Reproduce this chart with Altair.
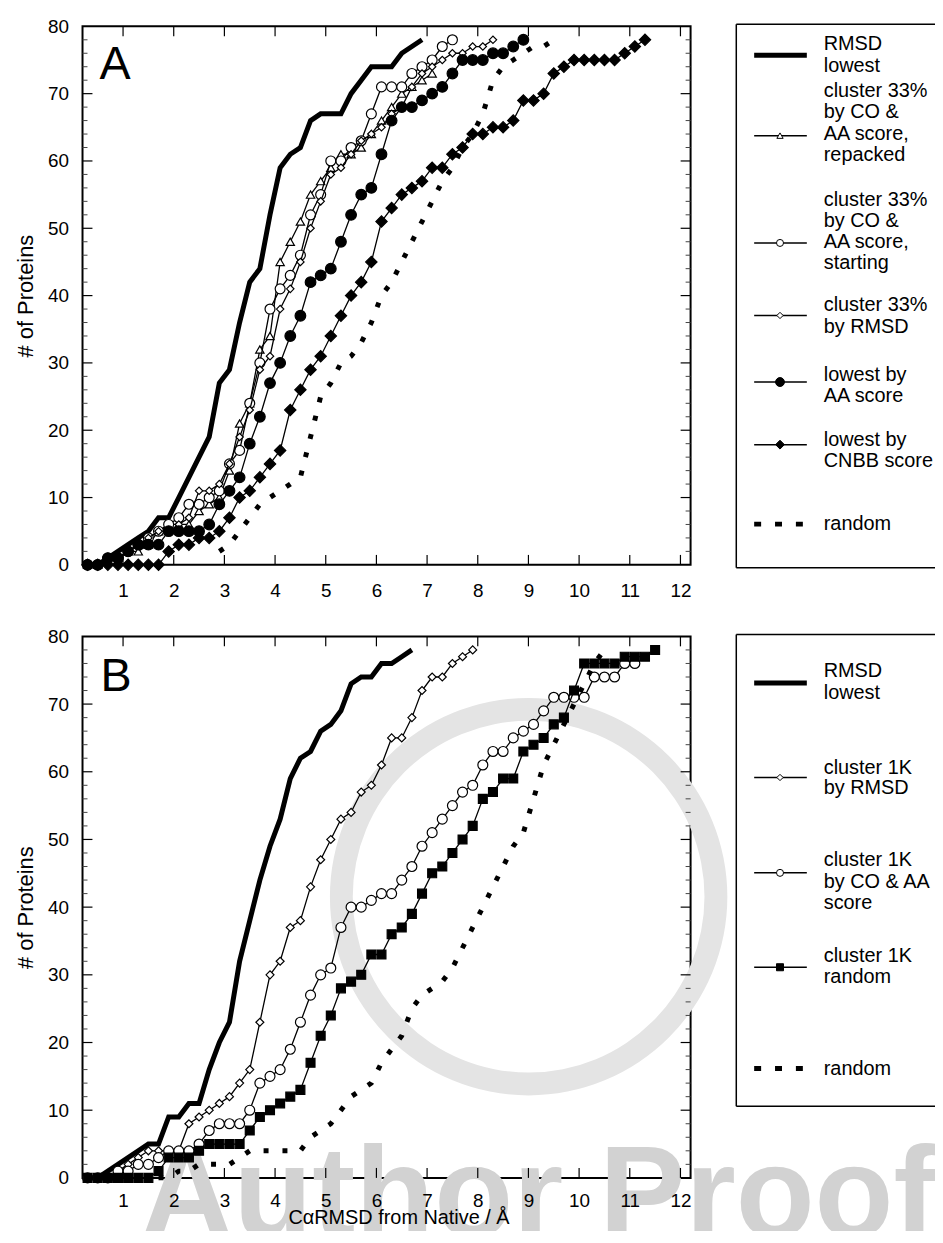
import altair as alt
import pandas as pd

FONT = "Liberation Sans"

# shared x grid of the cumulative curves (RMSD bins, Angstrom)
X_GRID = [0.3, 0.5, 0.7, 0.9, 1.1, 1.3, 1.5, 1.7, 1.9, 2.1, 2.3, 2.5, 2.7, 2.9,
          3.1, 3.3, 3.5, 3.7, 3.9, 4.1, 4.3, 4.5, 4.7, 4.9, 5.1, 5.3, 5.5, 5.7,
          5.9, 6.1, 6.3, 6.5, 6.7, 6.9, 7.1, 7.3, 7.5, 7.7, 7.9, 8.1, 8.3, 8.5,
          8.7, 8.9, 9.1, 9.3, 9.5, 9.7, 9.9, 10.1, 10.3, 10.5, 10.7, 10.9, 11.1,
          11.3, 11.5]

X_LABELS = [1, 2, 3, 4, 5, 6, 7, 8, 9, 10, 11, 12]
Y_LABELS = [0, 10, 20, 30, 40, 50, 60, 70, 80]
Y_MAJOR = [10, 20, 30, 40, 50, 60, 70]
Y_MINOR = [2, 4, 6, 8, 12, 14, 16, 18, 22, 24, 26, 28, 32, 34, 36, 38, 42, 44,
           46, 48, 52, 54, 56, 58, 62, 64, 66, 68, 72, 74, 76, 78]

# ---------------- Panel A (# of proteins, cumulative) ----------------
A_RMSD_LOWEST_START = 0.3
A_RMSD_LOWEST = [0, 0, 1, 2, 3, 4, 5, 7, 7, 10, 13, 16, 19, 27, 29, 36, 42, 44,
                 52, 59, 61, 62, 66, 67, 67, 67, 70, 72, 74, 74, 74, 76, 77, 78]
A_REPACKED_START = 0.3
A_REPACKED = [0, 0, 1, 1, 2, 2, 3, 5, 6, 6, 6, 8, 9, 10, 14, 21, 24, 32, 34, 45,
              48, 51, 55, 57, 59, 61, 61, 62, 64, 66, 68, 70, 71, 72, 73]
A_STARTING_START = 0.3
A_STARTING = [0, 0, 1, 1, 2, 3, 4, 5, 6, 7, 9, 9, 10, 11, 15, 17, 24, 30, 38, 41,
              43, 46, 52, 55, 60, 60, 62, 63, 67, 71, 71, 71, 73, 74, 75, 77, 78]
A_BY_RMSD_START = 0.3
A_BY_RMSD = [0, 0, 1, 1, 2, 3, 4, 5, 5, 6, 7, 11, 11, 12, 15, 19, 23, 29, 31, 38,
             41, 45, 50, 54, 58, 59, 61, 63, 64, 65, 67, 68, 71, 73, 74, 75, 76,
             76, 77, 77, 78]
A_AA_START = 0.3
A_AA = [0, 0, 1, 1, 2, 3, 3, 3, 5, 5, 5, 5, 6, 9, 11, 13, 18, 22, 27, 30, 34, 37,
        42, 43, 44, 48, 52, 55, 56, 61, 66, 68, 68, 69, 70, 71, 73, 75, 75, 75,
        76, 76, 77, 78]
A_CNBB_START = 0.3
A_CNBB = [0, 0, 0, 0, 0, 0, 0, 0, 2, 3, 3, 4, 4, 5, 7, 10, 11, 13, 15, 17, 23,
          26, 29, 31, 34, 37, 40, 42, 45, 51, 53, 55, 56, 57, 59, 59, 61, 62, 64,
          64, 65, 65, 66, 69, 69, 70, 73, 74, 75, 75, 75, 75, 75, 76, 77, 78]
A_RANDOM_START = 2.9
A_RANDOM = [2, 3, 5, 7, 9, 10, 11, 12, 13, 19, 25, 27, 30, 31, 33, 36, 40, 42,
            45, 48, 51, 54, 57, 59, 62, 64, 67, 72, 74, 75, 76, 77, 77, 78]

# ---------------- Panel B ----------------
B_RMSD_LOWEST_START = 0.3
B_RMSD_LOWEST = [0, 0, 1, 2, 3, 4, 5, 5, 9, 9, 11, 11, 16, 20, 23, 32, 38, 44,
                 49, 53, 59, 62, 63, 66, 67, 69, 73, 74, 74, 76, 76, 77, 78]
B_BY_RMSD_START = 0.3
B_BY_RMSD = [0, 0, 0, 1, 2, 3, 4, 4, 4, 4, 8, 9, 10, 11, 12, 14, 16, 23, 30, 32,
             37, 38, 43, 47, 50, 53, 54, 57, 58, 61, 65, 65, 68, 72, 74, 74, 76,
             77, 78]
B_CO_AA_START = 0.3
B_CO_AA = [0, 0, 0, 1, 1, 2, 2, 3, 4, 4, 4, 5, 7, 8, 8, 8, 10, 14, 15, 16, 19,
           23, 27, 30, 31, 37, 40, 40, 41, 42, 42, 44, 46, 49, 51, 53, 55, 57,
           58, 61, 63, 63, 65, 66, 67, 69, 71, 71, 71, 71, 74, 74, 74, 76, 76]
B_RANDOM_1K_START = 0.3
B_RANDOM_1K = [0, 0, 0, 0, 0, 0, 0, 1, 3, 3, 3, 4, 5, 5, 5, 5, 7, 9, 10, 11, 12,
               13, 17, 21, 24, 28, 29, 30, 33, 33, 36, 37, 39, 42, 45, 46, 48,
               50, 52, 56, 57, 59, 59, 63, 64, 65, 67, 68, 72, 76, 76, 76, 76,
               77, 77, 77, 78]
B_RANDOM_START = 1.7
B_RANDOM = [0, 0, 1, 1, 2, 2, 2, 2, 3, 4, 4, 4, 4, 4, 4, 6, 7, 8, 10, 12, 13, 14,
            17, 19, 21, 25, 27, 28, 29, 31, 34, 37, 40, 43, 46, 49, 51, 56, 61,
            64, 67, 70, 73, 76, 78]

# legend labels
A_LEGEND_LABELS = [
    ["RMSD", "lowest"],
    ["cluster 33%", "by CO &", "AA score,", "repacked"],
    ["cluster 33%", "by CO &", "AA score,", "starting"],
    ["cluster 33%", "by RMSD"],
    ["lowest by", "AA score"],
    ["lowest by", "CNBB score"],
    ["random"],
]
B_LEGEND_LABELS = [
    ["RMSD", "lowest"],
    ["cluster 1K", "by RMSD"],
    ["cluster 1K", "by CO & AA", "score"],
    ["cluster 1K", "random"],
    ["random"],
]
WATERMARK = "Author Proof"

# ---------------- styles / layout ----------------
STYLE_THICK = dict(kind="thick")
STYLE_DASH = dict(kind="dash")


def marker_style(shape, fill, size, lsize):
    return dict(kind="marker", shape=shape, fill=fill, size=size, lsize=lsize)


W = 612
H_A = 542
H_B = 545
LEG_X1, LEG_X2, LEG_MK, LEG_TX = 676, 729, 702, 746
BOX_LEFT, BOX_RIGHT = 658, 866

A_LEGEND_LAYOUT = [  # text line y's, symbol y (relative to plot top)
    ([18, 40], 29),
    ([65, 86, 108, 130], 110),
    ([175, 196, 217, 238], 218),
    ([281, 303], 291),
    ([351, 372], 358),
    ([416, 438], 421),
    ([501], 501),
]
A_BOX = (-2, 545)

B_LEGEND_LAYOUT = [
    ([35, 57], 47),
    ([133, 153], 142),
    ([225, 247, 268], 238),
    ([322, 343], 333),
    ([435], 435),
]
B_BOX = (-2, 473)


def make_df(start, ys):
    i = X_GRID.index(start)
    return pd.DataFrame({"x": X_GRID[i:i + len(ys)], "y": ys})


ONE = pd.DataFrame({"k": [0]})


def panel(H, series, labels, layout, box, letter, letter_xy, xtitle, xpad, watermark=False):
    xsc = alt.Scale(domain=[0.2, 12.2], nice=False, zero=False)
    ysc = alt.Scale(domain=[0, 80], nice=False, zero=False)
    xkw = dict(values=X_LABELS, labelFont=FONT, labelFontSize=19, labelColor="black",
               labelPadding=xpad, ticks=False, tickSize=0, domain=False, grid=False,
               labelOverlap=False, labelFlush=False, zindex=1)
    if xtitle:
        xkw.update(title=xtitle, titleFont=FONT, titleFontSize=20,
                   titleFontWeight="normal", titleColor="black",
                   titleX=318, titleY=46, titleBaseline="alphabetic",
                   titleAlign="center")
    else:
        xkw.update(title=None)
    xax = alt.Axis(**xkw)
    yax = alt.Axis(values=Y_LABELS, labelFont=FONT, labelFontSize=19, labelColor="black",
                   labelPadding=14, ticks=False, tickSize=0, domain=False, grid=False,
                   labelOverlap=False, labelFlush=False, zindex=1,
                   title="# of Proteins", titleFont=FONT, titleFontSize=22,
                   titleFontWeight="normal", titleColor="black", titleX=-45,
                   titleY=H / 2, titleAngle=270, titleBaseline="bottom",
                   titleAlign="center")
    X = alt.X("x:Q", scale=xsc, axis=xax)
    Y = alt.Y("y:Q", scale=ysc, axis=yax)
    layers = []

    if watermark:
        layers.append(alt.Chart(ONE).mark_arc(
            radius=200, radius2=177, theta=0, theta2=6.2832, color="#e4e4e4"
        ).encode(x=alt.value(449), y=alt.value(262)))
        layers.append(alt.Chart(ONE).mark_text(
            text=WATERMARK, font=FONT, fontSize=130, fontWeight="bold",
            color="#d2d2d2", align="left", baseline="alphabetic"
        ).encode(x=alt.value(58), y=alt.value(605)))

    # inward ticks on all four sides
    ymaj = pd.DataFrame({"v": Y_MAJOR})
    ymin = pd.DataFrame({"v": Y_MINOR})
    xt = pd.DataFrame({"v": X_LABELS})
    VY = alt.Y("v:Q", scale=ysc, axis=yax)
    VX = alt.X("v:Q", scale=xsc, axis=xax)
    layers += [
        alt.Chart(ymaj).mark_rule(color="black", strokeWidth=1.2).encode(y=VY, x=alt.value(0), x2=alt.value(10)),
        alt.Chart(ymaj).mark_rule(color="black", strokeWidth=1.2).encode(y=VY, x=alt.value(W - 10), x2=alt.value(W)),
        alt.Chart(ymin).mark_rule(color="#444444", strokeWidth=1).encode(y=VY, x=alt.value(0), x2=alt.value(5)),
        alt.Chart(ymin).mark_rule(color="#444444", strokeWidth=1).encode(y=VY, x=alt.value(W - 5), x2=alt.value(W)),
        alt.Chart(xt).mark_rule(color="black", strokeWidth=1.2).encode(x=VX, y=alt.value(0), y2=alt.value(10)),
        alt.Chart(xt).mark_rule(color="black", strokeWidth=1.2).encode(x=VX, y=alt.value(H - 10), y2=alt.value(H)),
    ]

    for df, st in series:
        if st["kind"] == "thick":
            layers.append(alt.Chart(df).mark_line(color="black", strokeWidth=5).encode(x=X, y=Y))
        elif st["kind"] == "dash":
            layers.append(alt.Chart(df).mark_line(color="black", strokeWidth=5, strokeDash=[5, 14]).encode(x=X, y=Y))
        else:
            layers.append(alt.Chart(df).mark_line(color="black", strokeWidth=1.3).encode(x=X, y=Y))
            layers.append(alt.Chart(df).mark_point(
                shape=st["shape"], filled=True, fill=st["fill"], stroke="black",
                strokeWidth=1.2, size=st["size"], opacity=1).encode(x=X, y=Y))

    # panel letter
    layers.append(alt.Chart(ONE).mark_text(
        text=letter, font=FONT, fontSize=47, align="left", baseline="alphabetic",
        color="black").encode(x=alt.value(letter_xy[0]), y=alt.value(letter_xy[1])))

    # legend box (top, left, bottom edges; the right edge is off the page)
    top, bottom = box
    box_df = pd.DataFrame({
        "x1": [BOX_LEFT, BOX_LEFT, BOX_LEFT], "x2": [BOX_RIGHT, BOX_LEFT, BOX_RIGHT],
        "y1": [top, top, bottom], "y2": [top, bottom, bottom]})
    LX = lambda f: alt.X(f, scale=None, axis=None)
    LY = lambda f: alt.Y(f, scale=None, axis=None)
    layers.append(alt.Chart(box_df).mark_rule(color="black", strokeWidth=1.5).encode(
        x=LX("x1:Q"), x2="x2:Q", y=LY("y1:Q"), y2="y2:Q"))

    text_rows = []
    for lines, (tys, sy) in zip(labels, layout):
        for t, ty in zip(lines, tys):
            text_rows.append({"t": t, "lx": LEG_TX, "ly": ty})
    layers.append(alt.Chart(pd.DataFrame(text_rows)).mark_text(
        font=FONT, fontSize=20, align="left", baseline="middle", color="black"
    ).encode(x=LX("lx:Q"), y=LY("ly:Q"), text="t:N"))

    for (df, st), (tys, sy) in zip(series, layout):
        sym = pd.DataFrame({"x1": [LEG_X1], "x2": [LEG_X2], "y": [sy], "xm": [LEG_MK]})
        if st["kind"] == "thick":
            layers.append(alt.Chart(sym).mark_rule(color="black", strokeWidth=5).encode(
                x=LX("x1:Q"), x2="x2:Q", y=LY("y:Q")))
        elif st["kind"] == "dash":
            layers.append(alt.Chart(sym).mark_rule(color="black", strokeWidth=5, strokeDash=[7, 14]).encode(
                x=LX("x1:Q"), x2="x2:Q", y=LY("y:Q")))
        else:
            layers.append(alt.Chart(sym).mark_rule(color="black", strokeWidth=1.5).encode(
                x=LX("x1:Q"), x2="x2:Q", y=LY("y:Q")))
            layers.append(alt.Chart(sym).mark_point(
                shape=st["shape"], filled=True, fill=st["fill"], stroke="black",
                strokeWidth=1, size=st["lsize"], opacity=1).encode(x=LX("xm:Q"), y=LY("y:Q")))

    return alt.layer(*layers).properties(width=W, height=H)


A_SERIES = [
    (make_df(A_RMSD_LOWEST_START, A_RMSD_LOWEST), STYLE_THICK),
    (make_df(A_REPACKED_START, A_REPACKED), marker_style("triangle-up", "white", 70, 40)),
    (make_df(A_STARTING_START, A_STARTING), marker_style("circle", "white", 100, 50)),
    (make_df(A_BY_RMSD_START, A_BY_RMSD), marker_style("diamond", "white", 55, 40)),
    (make_df(A_AA_START, A_AA), marker_style("circle", "black", 115, 80)),
    (make_df(A_CNBB_START, A_CNBB), marker_style("diamond", "black", 130, 80)),
    (make_df(A_RANDOM_START, A_RANDOM), STYLE_DASH),
]
B_SERIES = [
    (make_df(B_RMSD_LOWEST_START, B_RMSD_LOWEST), STYLE_THICK),
    (make_df(B_BY_RMSD_START, B_BY_RMSD), marker_style("diamond", "white", 64, 40)),
    (make_df(B_CO_AA_START, B_CO_AA), marker_style("circle", "white", 100, 50)),
    (make_df(B_RANDOM_1K_START, B_RANDOM_1K), marker_style("square", "black", 80, 50)),
    (make_df(B_RANDOM_START, B_RANDOM), STYLE_DASH),
]

pA = panel(H_A, A_SERIES, A_LEGEND_LABELS, A_LEGEND_LAYOUT, A_BOX, "A", (17, 53), None, 17)
pB = panel(H_B, B_SERIES, B_LEGEND_LABELS, B_LEGEND_LAYOUT, B_BOX, "B", (18, 55),
           "C\u03b1RMSD from Native / \u00c5", 14, watermark=True)

chart = alt.vconcat(pA, pB, spacing=25).properties(
    padding={"left": 6, "top": 4.5, "right": -10, "bottom": -38}, background="white"
).configure_view(stroke="black", strokeWidth=2)

chart.save("out.html", embed_options={"renderer": "svg", "actions": False})
